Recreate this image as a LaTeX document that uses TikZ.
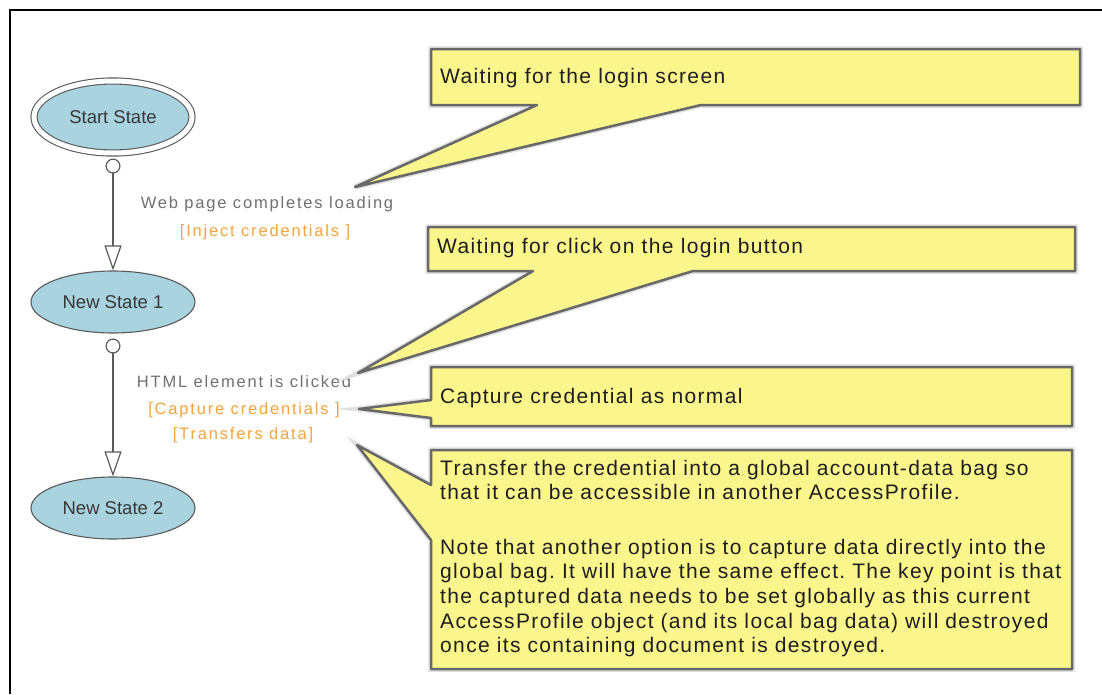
\documentclass[tikz,border=0pt]{standalone}
\usepackage{fontspec}
\setmainfont{Liberation Sans}
\newfontfamily\calfont[LetterSpace=6.5]{Liberation Sans}
\newfontfamily\lblfont[LetterSpace=11]{Liberation Sans}
\usetikzlibrary{arrows.meta,shapes.geometric}
\definecolor{stfill}{HTML}{A9D3DF}
\definecolor{stline}{HTML}{5A5A5A}
\definecolor{lblgray}{HTML}{707070}
\definecolor{lblorange}{HTML}{F5A33C}
\definecolor{calfill}{HTML}{FBF68C}
\definecolor{calline}{HTML}{686868}
\definecolor{caltext}{HTML}{1E1E1E}
\frenchspacing
\begin{document}
\begin{tikzpicture}[x=1pt,y=-1pt,
  state/.style={ellipse,draw=stline,fill=stfill,line width=1.1pt,minimum width=164pt,minimum height=62pt,inner sep=0pt,font=\fontsize{18.5}{20}\selectfont,text=black!78},
  startstate/.style={state,double=white,double distance=5pt,minimum width=158pt,minimum height=72pt},
  trans/.style={draw=stline,line width=1.3pt,shorten <=5pt,{Circle[open,length=15pt,width=15pt,line width=1.2pt]}-{Triangle[open,length=25pt,width=17pt,line width=1.2pt]}},
  lbl/.style={anchor=base,inner sep=0pt,font=\lblfont\fontsize{16.5}{18}\selectfont,text=lblgray},
  act/.style={lbl,text=lblorange},
  callout/.style={fill=calfill,draw=calline,line width=2.5pt,line join=round,preaction={draw=black!12,line width=5.5pt}},
  caltxt/.style={anchor=base west,inner sep=0pt,font=\calfont\fontsize{21}{24.7}\selectfont,text=caltext},
  calpar/.style={caltxt,text width=700pt,align=left}
]
\useasboundingbox (0,0) rectangle (1102,694);
% outer frame
\draw[line width=1.3pt] (10,694) -- (10,10) -- (1102,10);

% states
\node[startstate] (s0) at (113,117) {Start State};
\node[state] (s1) at (113,302) {New State 1};
\node[state] (s2) at (113,508) {New State 2};

% transitions
\draw[trans] (s0) -- (s1);
\draw[trans] (s1) -- (s2);

% transition labels
\node[lbl] (t1) at (267,208) {Web page completes loading};
\node[act] (t1a) at (265,236) {[Inject credentials ]};
\node[lbl] (t2) at (244,387) {HTML element is clicked};
\node[act] (t2a) at (244,414) {[Capture credentials ]};
\node[act] (t2b) at (243,439) {[Transfers data]};

% callout tips
\coordinate (p1) at (355,187);
\coordinate (p2) at (358,373);
\coordinate (p3) at (359,409);
\coordinate (p4) at (357,445);

% callouts
\draw[callout] (431,49) -- (1080,49) -- (1080,105) -- (701,105) -- (p1) -- (537,105) -- (431,105) -- cycle;
\draw[callout] (428,227) -- (1075,227) -- (1075,271) -- (693,271) -- (p2) -- (533,271) -- (428,271) -- cycle;
\draw[callout] (431,367) -- (1072,367) -- (1072,426) -- (431,426) -- (431,418) -- (p3) -- (431,400) -- cycle;
\draw[callout] (431,450) -- (1072,450) -- (1072,669) -- (431,669) -- (431,540) -- (p4) -- (431,485) -- cycle;

% callout texts
\node[caltxt] (n1) at (440,83) {Waiting for the login screen};
\node[caltxt] (n2) at (437,253) {Waiting for click on the login button};
\node[caltxt] (n3) at (440,403) {Capture credential as normal};
\node[calpar] (n4a) at (440,475) {Transfer the credential into a global account-data bag so\\that it can be accessible in another AccessProfile.};
\node[calpar] (n4b) at (440,554) {Note that another option is to capture data directly into the\\global bag. It will have the same effect. The key point is that\\the captured data needs to be set globally as this current\\AccessProfile object (and its local bag data) will destroyed\\once its containing document is destroyed.};
\end{tikzpicture}
\end{document}
